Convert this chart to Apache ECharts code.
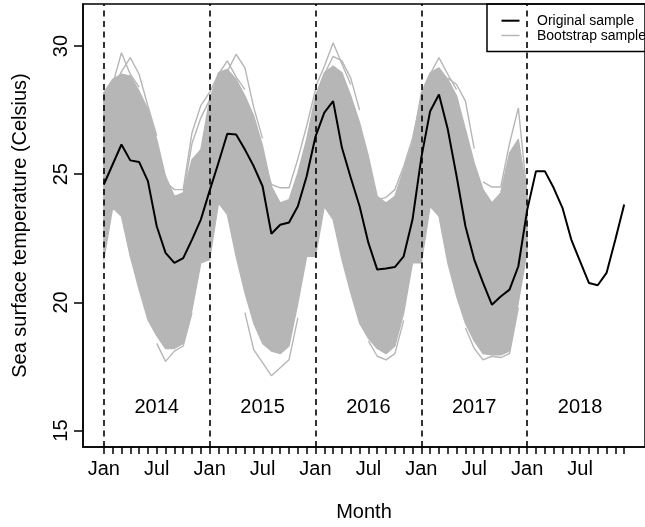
<!DOCTYPE html>
<html><head><meta charset="utf-8">
<script src="https://cdn.jsdelivr.net/npm/echarts@6/dist/echarts.min.js"></script>
<style>html,body{margin:0;padding:0;background:#fff}#c{width:645px;height:527px}</style>
</head><body><div id="c"></div>
<script>
// ---- data ----
const xTickPositions = [0, 6, 12, 18, 24, 30, 36, 42, 48, 54];
const xTickLabels = ['Jan','Jul','Jan','Jul','Jan','Jul','Jan','Jul','Jan','Jul'];
const yTicks = [15, 20, 25, 30];
const yearLabels = ['2014','2015','2016','2017','2018'];
const yearLabelMonth = [6, 18, 30, 42, 54];
const yearLabelValue = 15.9;
const yearStartMonth = [0, 12, 24, 36, 48];

// original sample, Jan 2014 .. Dec 2018 (month index 0..59)
const originalSample = [
  24.6, 25.38, 26.16, 25.54, 25.48, 24.73, 22.97, 21.93, 21.54, 21.73, 22.45, 23.23,
  24.36, 25.45, 26.58, 26.55, 25.96, 25.31, 24.53, 22.68, 23.03, 23.12, 23.75, 24.92,
  26.47, 27.4, 27.85, 26.03, 24.86, 23.75, 22.32, 21.28, 21.32, 21.38, 21.8, 23.23,
  25.65, 27.46, 28.11, 26.75, 24.92, 22.97, 21.67, 20.76, 19.91, 20.23, 20.5, 21.41,
  23.6, 25.12, 25.12, 24.47, 23.69, 22.45, 21.6, 20.76, 20.67, 21.15, 22.45, 23.82
];

// envelope of the bulk of bootstrap samples, month index 0..48
const bootUpper = [
  28.18, 28.7, 28.9, 28.83, 28.24, 27.53, 26.36, 24.92, 24.14, 24.27, 25.57, 25.96,
  27.92, 28.96, 29.09, 28.7, 28.05, 27.27, 26.1, 24.53, 23.88, 24.01, 25.05, 26.36,
  28.05, 28.96, 29.22, 28.96, 28.05, 27.01, 25.7, 24.14, 23.88, 24.14, 25.18, 26.23,
  28.18, 28.96, 29.15, 28.7, 28.05, 26.75, 25.44, 24.4, 23.88, 24.27, 25.83, 26.36,
  24.2
];
const bootLower = [
  21.67, 23.69, 23.36, 21.8, 20.5, 19.32, 18.7, 18.2, 18.2, 18.4, 19.71, 21.54,
  21.67, 23.88, 23.43, 21.8, 20.37, 19.19, 18.4, 18.1, 18.0, 18.3, 19.97, 21.8,
  21.8, 23.75, 23.23, 21.67, 20.37, 19.19, 18.6, 18.2, 18.0, 18.3, 19.58, 21.54,
  21.54, 23.75, 23.36, 21.54, 20.24, 19.19, 18.5, 18.0, 17.95, 17.95, 18.1, 20.0,
  22.0
];

// individual bootstrap samples that stand out of the bulk: [month index, value]
const bootLineA = [[1,28.5],[2,29.74],[3,28.9],[4,28.4]];
const bootLineB = [[1,28.3],[2,29.0],[3,29.55],[4,28.9],[5,27.66],[6,26.5]];
const bootLineC = [[6,26.0],[7,24.7],[8,24.4],[9,24.4],[10,26.62],[11,27.68],[12,28.2]];
const bootLineC2 = [[8,24.0],[9,24.2],[10,26.2],[11,27.2],[12,27.9]];
const bootLineD = [[12,28.2],[13,28.9],[14,29.42],[15,28.8],[16,28.3]];
const bootLineE = [[13,28.7],[14,29.0],[15,29.68],[16,29.15],[17,27.6],[18,26.4]];
const bootLineF = [[18,25.7],[19,24.6],[20,24.47],[21,24.47],[22,25.6],[23,26.88],[24,28.3]];
const bootLineG = [[24,28.4],[25,29.2],[26,30.13],[27,29.3],[28,28.5]];
const bootLineH = [[25,28.9],[26,29.6],[27,29.42],[28,28.75],[29,27.5]];
const bootLineI = [[31,24.0],[32,24.1],[33,24.4],[34,25.3],[35,26.4],[36,28.0]];
const bootLineJ = [[37,28.9],[38,29.55],[39,28.9],[40,28.3]];
const bootLineJ2 = [[39,28.75],[40,28.5],[41,27.85],[42,26.0]];
const bootLineK = [[43,24.7],[44,24.5],[45,24.5],[46,26.2],[47,27.59],[48,24.2]];
const bootLineL = [[6,18.4],[7,17.7],[8,18.1],[9,18.3],[10,19.6]];
const bootLineM = [[16,19.6],[17,18.15],[18,17.65],[19,17.14],[20,17.45],[21,17.76],[22,19.4]];
const bootLineN = [[30,18.5],[31,17.9],[32,17.76],[33,18.0],[34,19.3]];
const bootLineO = [[41,19.0],[42,18.2],[43,17.76],[44,17.9],[45,17.85],[46,18.0],[47,19.8]];

const bootOutliers = [bootLineA, bootLineB, bootLineC, bootLineC2, bootLineD, bootLineE,
  bootLineF, bootLineG, bootLineH, bootLineI, bootLineJ, bootLineJ2, bootLineK,
  bootLineL, bootLineM, bootLineN, bootLineO];

// ---- chart ----
const GREY = '#B6B6B6';
const FONT = 'Liberation Sans, Arial, Helvetica, sans-serif';
const allMonths = originalSample.map((v, i) => i);

const chart = echarts.init(document.getElementById('c'), null, {renderer: 'canvas'});

const series = [];
series.push({
  type: 'custom',
  z: 2,
  silent: true,
  clip: true,
  data: [[0, bootUpper[0]]],
  renderItem: function (params, api) {
    const pts = [];
    for (let i = 0; i < bootUpper.length; i++) pts.push(api.coord([i, bootUpper[i]]));
    for (let i = bootLower.length - 1; i >= 0; i--) pts.push(api.coord([i, bootLower[i]]));
    return {type: 'polygon', shape: {points: pts},
      style: {fill: GREY, stroke: GREY, lineWidth: 1.3, lineJoin: 'round'}};
  }
});
bootOutliers.forEach(function (d) {
  series.push({
    type: 'line', z: 3, silent: true, symbol: 'none', data: d,
    lineStyle: {color: GREY, width: 1.4}
  });
});
series.push({
  type: 'line', z: 5, silent: true, symbol: 'none',
  data: originalSample.map((v, i) => [i, v]),
  lineStyle: {color: '#000', width: 2},
  markLine: {
    silent: true, symbol: ['none', 'none'], label: {show: false},
    lineStyle: {type: [6, 4.5], color: '#000', width: 1.6},
    data: yearStartMonth.map(m => ({xAxis: m}))
  }
});
series.push({
  type: 'scatter', z: 6, silent: true, symbolSize: 0,
  itemStyle: {opacity: 1},
  data: yearLabelMonth.map((m, k) => [m, yearLabelValue, yearLabels[k]]),
  label: {show: true, position: 'inside', formatter: p => p.data[2],
    color: '#000', opacity: 1, textBorderWidth: 0, fontSize: 20, fontFamily: FONT}
});

chart.setOption({
  animation: false,
  backgroundColor: '#fff',
  grid: {show: true, left: 83, top: 4, width: 568, height: 443,
    borderColor: '#000', borderWidth: 1.5, backgroundColor: 'transparent'},
  xAxis: {
    type: 'value', min: -2.36, max: 61.36,
    name: 'Month', nameLocation: 'middle', nameGap: 55,
    nameTextStyle: {color: '#000', fontSize: 20, fontFamily: FONT},
    axisLine: {show: true, onZero: false, lineStyle: {color: '#000', width: 1.5}},
    axisTick: {show: true, customValues: allMonths, length: 7, inside: false,
      lineStyle: {color: '#000', width: 1.5}},
    axisLabel: {show: true, customValues: xTickPositions, margin: 12,
      color: '#000', fontSize: 20, fontFamily: FONT,
      formatter: v => xTickLabels[xTickPositions.indexOf(Math.round(v))]},
    splitLine: {show: false}
  },
  yAxis: {
    type: 'value', min: 14.36, max: 31.64,
    name: 'Sea surface temperature (Celsius)', nameLocation: 'middle', nameGap: 53,
    nameRotate: 90,
    nameTextStyle: {color: '#000', fontSize: 20, fontFamily: FONT},
    axisLine: {show: true, onZero: false, lineStyle: {color: '#000', width: 1.5}},
    axisTick: {show: true, customValues: yTicks, length: 9,
      lineStyle: {color: '#000', width: 1.5}},
    axisLabel: {show: true, customValues: yTicks, rotate: 90, margin: 12,
      color: '#000', fontSize: 20, fontFamily: FONT,
      formatter: v => String(Math.round(v))},
    splitLine: {show: false}
  },
  graphic: [
    {type: 'rect', z: 100, shape: {x: 487, y: 4, width: 200, height: 47.5},
      style: {fill: 'none', stroke: '#000', lineWidth: 1.5}},
    {type: 'line', z: 100, shape: {x1: 501.5, y1: 20.7, x2: 519.5, y2: 20.7},
      style: {stroke: '#000', lineWidth: 2}},
    {type: 'line', z: 100, shape: {x1: 501.5, y1: 35.5, x2: 519.5, y2: 35.5},
      style: {stroke: GREY, lineWidth: 1.5}},
    {type: 'text', z: 100, x: 537, y: 20.7,
      style: {text: 'Original sample', fill: '#000', fontSize: 14, fontFamily: FONT,
        verticalAlign: 'middle', align: 'left'}},
    {type: 'text', z: 100, x: 537, y: 36,
      style: {text: 'Bootstrap samples', fill: '#000', fontSize: 14, fontFamily: FONT,
        verticalAlign: 'middle', align: 'left'}}
  ],
  series: series
});
</script></body></html>
